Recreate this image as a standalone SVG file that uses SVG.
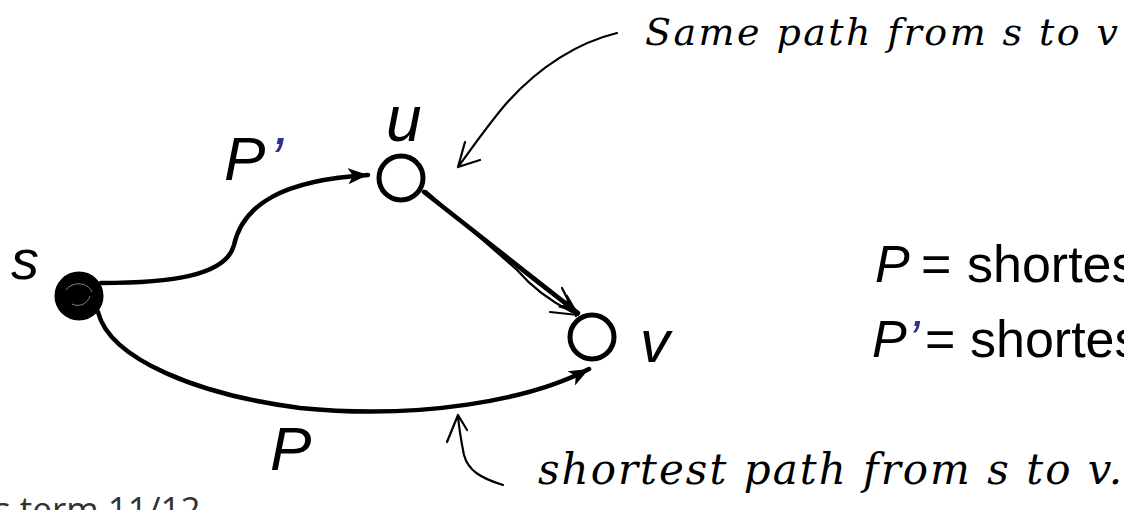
<svg xmlns="http://www.w3.org/2000/svg" width="1124" height="510" viewBox="0 0 1124 510">
<defs>
<style>
.edge{fill:none;stroke:#000;stroke-width:4.5;stroke-linecap:round}
.thin{fill:none;stroke:#000;stroke-width:2.2;stroke-linecap:round;stroke-linejoin:round}
.node{fill:#fff;stroke:#000;stroke-width:5}
.lbl{font-family:"Liberation Sans",Arial,sans-serif;font-style:italic;fill:#000}
.eq{font-family:"Liberation Sans",Arial,sans-serif;font-size:52px;fill:#000}
.prime{fill:#2e3192}
.hand{font-family:"DejaVu Serif","Liberation Serif",serif;font-style:italic;fill:#000}
</style>
<marker id="ah" markerUnits="userSpaceOnUse" markerWidth="24" markerHeight="18" refX="20" refY="9" orient="auto">
<path d="M0,1 L20,9 L0,17 L5,9 Z" fill="#000"/>
</marker>
</defs>
<g id="connectors">
<path class="edge" d="M101,283 C170,283 226,276 234,245 C243,205 282,180 368,175" marker-end="url(#ah)"/>
<path class="edge" d="M98,312 C110,360 200,395 300,408 C420,420 530,400 589,369" marker-end="url(#ah)"/>
<path class="edge" stroke-width="6" d="M424,192 L578,313" marker-end="url(#ah)"/>
<path class="thin" d="M426,191 C470,230 520,270 570,308"/>
<path class="thin" d="M430,196 C470,228 500,255 517,270 C530,285 548,300 572,312"/>
<path class="thin" stroke-width="3" d="M562,288 L576,316 M550,312 L578,315"/>
<path class="thin" d="M617,33 C580,42 540,65 505,105 C488,125 472,148 458,167 M465,142 L458,167 L480,160"/>
<path class="thin" d="M503,485 C480,478 468,470 464,455 C461,440 459,428 458,416 M447,442 L458,415 L467,430"/>
</g>
<g id="node-s">
<circle cx="79" cy="296" r="22" fill="#000" stroke="#000" stroke-width="5"/>
<path d="M66,290 C72,281 88,282 92,292 M72,304 C80,308 88,303 90,296" fill="none" stroke="#fff" stroke-width="1" opacity="0.5"/>
<text class="lbl" x="11" y="279" font-size="56">s</text>
</g>
<g id="node-u">
<circle class="node" cx="401" cy="178" r="22"/>
<text class="lbl" x="386" y="141" font-size="64">u</text>
</g>
<g id="node-v">
<circle class="node" cx="592" cy="337" r="22"/>
<text class="lbl" x="640" y="362" font-size="60">v</text>
</g>
<g id="edge-labels">
<text class="lbl" x="224" y="180" font-size="62">P<tspan class="prime" dx="4">’</tspan></text>
<text class="lbl" x="270" y="470" font-size="62">P</text>
</g>
<g id="legend">
<text class="eq" y="282"><tspan x="875" font-style="italic">P</tspan><tspan x="921">=</tspan><tspan x="967">shortes</tspan></text>
<text class="eq" y="357"><tspan x="872" font-style="italic">P</tspan><tspan class="prime" x="908" font-style="italic">’</tspan><tspan x="925">=</tspan><tspan x="970">shortes</tspan></text>
</g>
<g id="annotations">
<text class="hand" x="645" y="45" font-size="38" textLength="473" lengthAdjust="spacing">Same path from s to v</text>
<text class="hand" x="538" y="484" font-size="42" textLength="584" lengthAdjust="spacing">shortest path from s to v.</text>
</g>
<text x="-6" y="522" font-family="'Open Sans',sans-serif" font-size="35" fill="#333">s term 11/12</text>
</svg>
